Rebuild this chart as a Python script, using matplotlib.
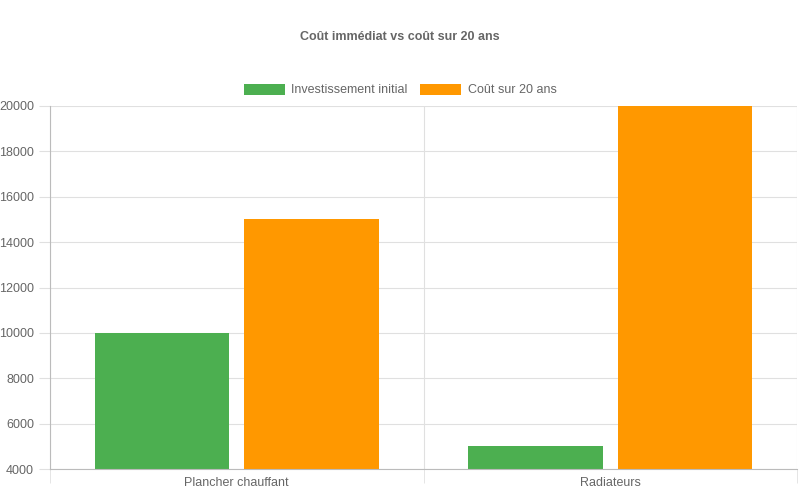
import matplotlib
matplotlib.use('Agg')
import matplotlib.pyplot as plt
import numpy as np

plt.rcParams['font.family'] = ['Liberation Sans', 'DejaVu Sans']

categories = ['Plancher chauffant', 'Radiateurs']
initial = [10000, 5000]
cost_20y = [15000, 20000]
series_labels = ['Investissement initial', 'Coût sur 20 ans']

fig = plt.figure(figsize=(8, 5), dpi=100)
ax = fig.add_axes([0.0625, 0.062, 0.934, 0.726])

x = np.arange(len(categories))
ax.bar(x - 0.2, initial, width=0.36, color='#4CAF50', label=series_labels[0])
ax.bar(x + 0.2, cost_20y, width=0.36, color='#FF9800', label=series_labels[1])

ax.set_xlim(-0.5, len(categories) - 0.5)
ax.set_ylim(4000, 20000)
ax.set_yticks(np.arange(4000, 20001, 2000))
ax.set_xticks(x)
ax.set_xticklabels(categories)
ax.set_xticks(np.arange(-0.5, len(categories), 1), minor=True)

grid_c = '#e0e0e0'
ax.grid(axis='y', color=grid_c, linewidth=0.8)
ax.grid(axis='x', which='minor', color=grid_c, linewidth=0.8)
ax.set_axisbelow(True)
ax.tick_params(axis='x', which='major', length=0, labelsize=9, colors='#666666', pad=6)
ax.tick_params(axis='x', which='minor', length=10, color=grid_c)
ax.tick_params(axis='y', length=8, color=grid_c, labelsize=9, colors='#666666')
for s in ['top', 'right']:
    ax.spines[s].set_visible(False)
ax.spines['left'].set_color('#bbbbbb')
ax.spines['bottom'].set_color('#bbbbbb')

fig.text(0.5, 0.925, 'Coût immédiat vs coût sur 20 ans', ha='center', va='center',
         fontsize=9, fontweight='bold', color='#666666')
fig.legend(loc='center', bbox_to_anchor=(0.5, 0.82), ncol=2, frameon=False,
           fontsize=9, labelcolor='#666666', handlelength=3.3, handleheight=1.0,
           columnspacing=1.0, handletextpad=0.5)

fig.savefig('out.png', dpi=100)
